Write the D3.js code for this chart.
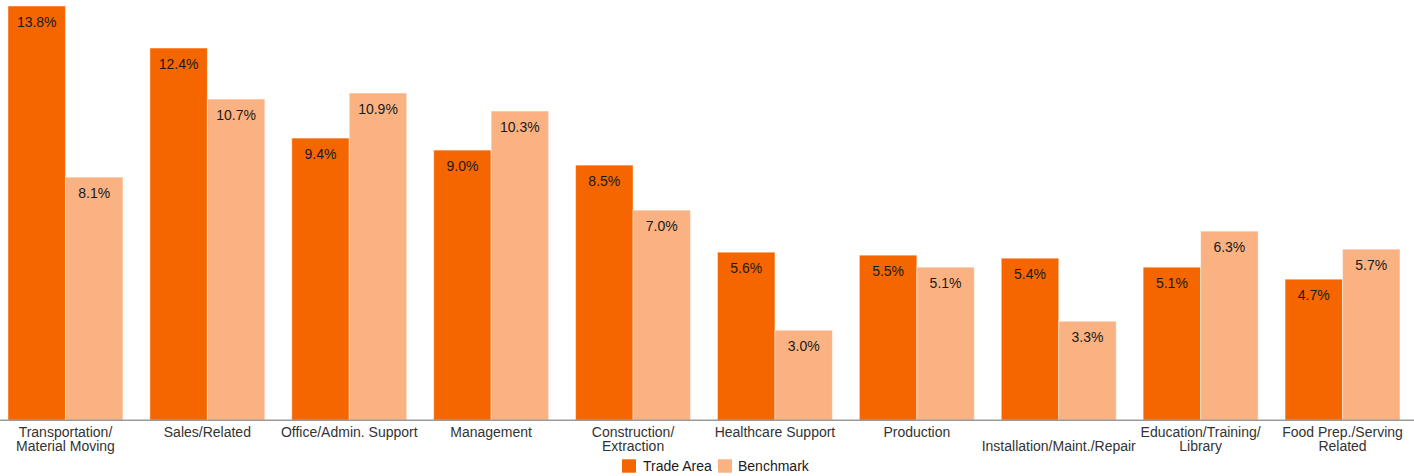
<!DOCTYPE html>
<html>
<head>
<meta charset="utf-8">
<script src="https://cdn.jsdelivr.net/npm/d3@7"></script>
<style>
  html, body { margin: 0; padding: 0; background: #fff; }
  svg { display: block; font-family: "Liberation Sans", Arial, sans-serif; }
</style>
</head>
<body>
<svg id="chart" width="1414" height="476"></svg>
<script>
const categories = [
  ["Transportation/", "Material Moving"],
  ["Sales/Related"],
  ["Office/Admin. Support"],
  ["Management"],
  ["Construction/", "Extraction"],
  ["Healthcare Support"],
  ["Production"],
  ["", "Installation/Maint./Repair"],
  ["Education/Training/", "Library"],
  ["Food Prep./Serving", "Related"]
];
const seriesNames = ["Trade Area", "Benchmark"];
const tradeArea = [13.8, 12.4, 9.4, 9.0, 8.5, 5.6, 5.5, 5.4, 5.1, 4.7];
const benchmark = [8.1, 10.7, 10.9, 10.3, 7.0, 3.0, 5.1, 3.3, 6.3, 5.7];
const colors = ["#F56600", "#FAB283"];

const svg = d3.select("#chart");
const catKeys = categories.map(c => c.join(" ").trim());
const baseY = 420.3;

const x0 = d3.scaleBand().domain(catKeys).range([8, 1400]).paddingInner(0.19).paddingOuter(0);
const x1 = d3.scaleBand().domain(seriesNames).range([0, x0.bandwidth()]).padding(0);
const y = d3.scaleLinear().domain([0, 13.8]).range([baseY, 6]);
const color = d3.scaleOrdinal().domain(seriesNames).range(colors);

const rows = catKeys.map((k, i) => ({
  key: k,
  values: [
    { series: seriesNames[0], value: tradeArea[i] },
    { series: seriesNames[1], value: benchmark[i] }
  ]
}));

const groups = svg.append("g").selectAll("g")
  .data(rows).join("g")
  .attr("transform", d => `translate(${x0(d.key)},0)`);

groups.selectAll("rect")
  .data(d => d.values).join("rect")
  .attr("x", d => x1(d.series))
  .attr("width", x1.bandwidth())
  .attr("y", d => y(d.value))
  .attr("height", d => y(0) - y(d.value))
  .attr("fill", d => color(d.series))
  .attr("stroke", "rgba(255,255,255,0.45)")
  .attr("stroke-width", 1);

groups.selectAll("text.val")
  .data(d => d.values).join("text")
  .attr("class", "val")
  .attr("x", d => x1(d.series) + x1.bandwidth() / 2)
  .attr("y", d => y(d.value) + 21)
  .attr("text-anchor", "middle")
  .attr("font-size", "14px")
  .attr("fill", "#1a1a1a")
  .text(d => d.value.toFixed(1) + "%");

// axis
const xAxis = d3.axisBottom(x0).tickSize(0).tickFormat("");
const axisG = svg.append("g").attr("transform", `translate(0,${baseY})`).call(xAxis);
axisG.select(".domain").remove();
svg.append("line")
  .attr("x1", 0).attr("x2", 1414)
  .attr("y1", baseY).attr("y2", baseY)
  .attr("stroke", "#9a9a9a").attr("stroke-width", 1.5);

const labels = svg.append("g").selectAll("text")
  .data(categories).join("text")
  .attr("x", (d, i) => x0(catKeys[i]) + x0.bandwidth() / 2)
  .attr("y", 437)
  .attr("text-anchor", "middle")
  .attr("font-size", "14px")
  .attr("fill", "#333");
labels.selectAll("tspan")
  .data(d => d).join("tspan")
  .attr("x", function() { return d3.select(this.parentNode).attr("x"); })
  .attr("dy", (d, i) => i === 0 ? 0 : 13.5)
  .text(d => d);

// legend
const legendItems = [
  { name: seriesNames[0], sx: 622, tx: 643 },
  { name: seriesNames[1], sx: 718, tx: 738 }
];
const lg = svg.append("g").selectAll("g").data(legendItems).join("g");
lg.append("rect")
  .attr("x", d => d.sx).attr("y", 459.3)
  .attr("width", 14).attr("height", 13.4)
  .attr("fill", d => color(d.name));
lg.append("text")
  .attr("x", d => d.tx).attr("y", 471)
  .attr("font-size", "14px")
  .attr("fill", "#1a1a1a")
  .text(d => d.name);
</script>
</body>
</html>
